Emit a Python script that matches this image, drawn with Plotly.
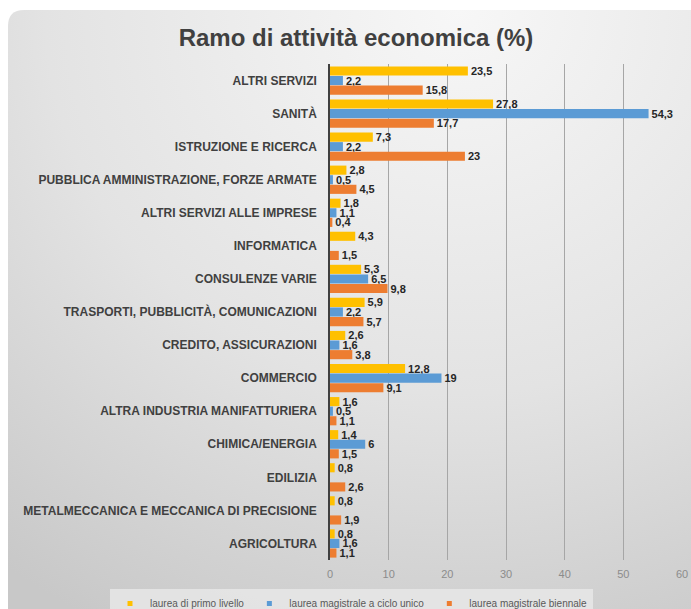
import base64
import plotly.graph_objects as go

categories = [
    "ALTRI SERVIZI",
    "SANITÀ",
    "ISTRUZIONE E RICERCA",
    "PUBBLICA AMMINISTRAZIONE, FORZE ARMATE",
    "ALTRI SERVIZI ALLE IMPRESE",
    "INFORMATICA",
    "CONSULENZE VARIE",
    "TRASPORTI, PUBBLICITÀ, COMUNICAZIONI",
    "CREDITO, ASSICURAZIONI",
    "COMMERCIO",
    "ALTRA INDUSTRIA MANIFATTURIERA",
    "CHIMICA/ENERGIA",
    "EDILIZIA",
    "METALMECCANICA E MECCANICA DI PRECISIONE",
    "AGRICOLTURA",
]
primo_livello = [23.5, 27.8, 7.3, 2.8, 1.8, 4.3, 5.3, 5.9, 2.6, 12.8, 1.6, 1.4, 0.8, 0.8, 0.8]
ciclo_unico = [2.2, 54.3, 2.2, 0.5, 1.1, None, 6.5, 2.2, 1.6, 19, 0.5, 6, None, None, 1.6]
biennale = [15.8, 17.7, 23, 4.5, 0.4, 1.5, 9.8, 5.7, 3.8, 9.1, 1.1, 1.5, 2.6, 1.9, 1.1]
series_names = ["laurea di primo livello", "laurea magistrale a ciclo unico", "laurea magistrale biennale"]
x_ticks = [0, 10, 20, 30, 40, 50, 60]

colors = ["#FFC000", "#5B9BD5", "#ED7D31"]
FONT = "Liberation Sans, Arial, sans-serif"

W, H = 691, 609
ML, MR, MT, MB = 330, 9, 64, 49


def fmt(v):
    if v is None:
        return ""
    if float(v).is_integer():
        return str(int(v))
    return str(v).replace(".", ",")


fig = go.Figure()
for name, vals, col in zip(series_names, [primo_livello, ciclo_unico, biennale], colors):
    fig.add_trace(go.Bar(
        y=categories, x=vals, orientation="h", name=name,
        marker=dict(color=col, line=dict(width=0)),
        text=[fmt(v) for v in vals], textposition="outside",
        textfont=dict(family=FONT, size=11, color="#262626", weight="bold"),
        constraintext="none", cliponaxis=False, showlegend=False,
        hoverinfo="x+y",
    ))
    # legend entry with a small square marker
    fig.add_trace(go.Scatter(
        x=[None], y=[None], mode="markers", name=name,
        marker=dict(symbol="square", size=5, color=col), showlegend=True,
    ))

# background panel (gradient, rounded top-left corner)
pw, ph = W - 8, H - 10
svg = f'''<svg xmlns="http://www.w3.org/2000/svg" width="{pw}" height="{ph}" viewBox="0 0 {pw} {ph}">
<defs><radialGradient id="g" gradientUnits="userSpaceOnUse" cx="450" cy="0" r="750"
 gradientTransform="translate(450 0) scale(1 0.93) translate(-450 0)">
<stop offset="0" stop-color="#f7f7f7"/><stop offset="0.55" stop-color="#e3e3e3"/>
<stop offset="1" stop-color="#c8c8c8"/></radialGradient></defs>
<path d="M0,16 Q0,0 16,0 L{pw},0 L{pw},{ph} L0,{ph} Z" fill="url(#g)"/></svg>'''
src = "data:image/svg+xml;base64," + base64.b64encode(svg.encode()).decode()
plot_w = W - ML - MR
plot_h = H - MT - MB
fig.add_layout_image(dict(
    source=src, xref="paper", yref="paper",
    x=(8 - ML) / plot_w, y=1 + (MT - 10) / plot_h,
    sizex=pw / plot_w, sizey=ph / plot_h,
    xanchor="left", yanchor="top", sizing="stretch", layer="below",
))

fig.update_layout(
    width=W, height=H,
    margin=dict(l=ML, r=MR, t=MT, b=MB, autoexpand=False),
    paper_bgcolor="white", plot_bgcolor="rgba(0,0,0,0)",
    barmode="group", bargap=0.13, bargroupgap=0.05,
    title=dict(text="<b>Ramo di attività economica (%)</b>", x=356 / W, xanchor="center",
               y=1 - 38 / H, yanchor="middle",
               font=dict(family=FONT, size=24, color="#404040")),
    xaxis=dict(range=[0, 60], tickvals=x_ticks, showgrid=True, gridcolor="#a6a6a6", gridwidth=1,
               zeroline=False, showline=False, ticks="", automargin=False,
               tickfont=dict(family=FONT, size=11, color="#8c8c8c"), ticklabelstandoff=6,
               fixedrange=True),
    yaxis=dict(autorange="reversed", showgrid=False, showline=True, linecolor="#404040", linewidth=1.5,
               ticks="", tickfont=dict(family=FONT, size=12, color="#404040", weight="bold"),
               ticklabelstandoff=9, fixedrange=True, automargin=False),
    legend=dict(orientation="h", x=(110 - ML) / plot_w, xanchor="left",
                y=-(589 - (H - MB)) / plot_h, yanchor="top",
                bgcolor="rgba(232,232,232,0.8)", font=dict(family=FONT, size=10, color="#595959"),
                itemwidth=30, tracegroupgap=0),
    showlegend=True,
)

fig.write_html("out.html", config={"displayModeBar": False},
               post_script="document.body.style.margin='0';document.body.style.padding='0';")
